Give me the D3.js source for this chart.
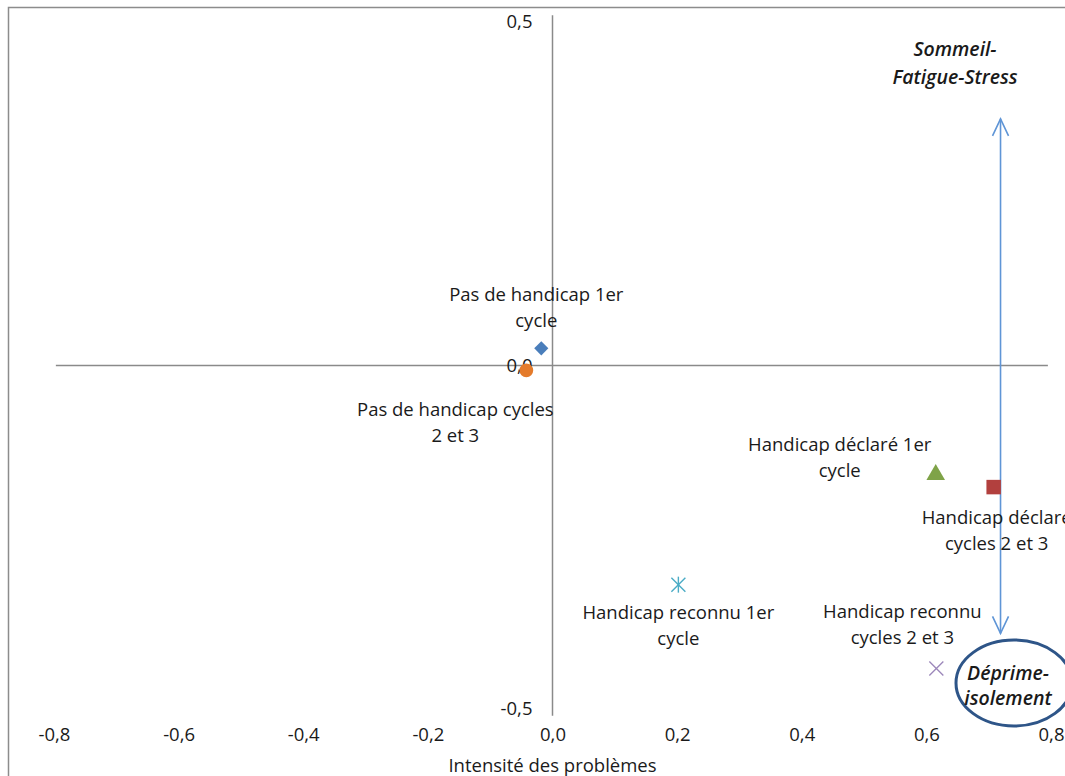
<!DOCTYPE html>
<html><head><meta charset="utf-8">
<script src="https://cdn.jsdelivr.net/npm/d3@7"></script>
<style>
body{margin:0;background:#fff;}
text{font-family:"Open Sans","Liberation Sans",sans-serif;fill:#1a1a1a;}
</style></head>
<body><svg id="c" width="1065" height="776"></svg>
<script>
const groups = ["Pas de handicap 1er cycle","Pas de handicap cycles 2 et 3","Handicap déclaré 1er cycle","Handicap déclaré cycles 2 et 3","Handicap reconnu 1er cycle","Handicap reconnu cycles 2 et 3"];
const labelLines = [["Pas de handicap 1er","cycle"],["Pas de handicap cycles","2 et 3"],["Handicap déclaré 1er","cycle"],["Handicap déclaré","cycles 2 et 3"],["Handicap reconnu 1er","cycle"],["Handicap reconnu","cycles 2 et 3"]];
const xValues = [-0.018,-0.042,0.615,0.708,0.202,0.616];
const yValues = [0.025,-0.007,-0.159,-0.177,-0.319,-0.441];
const symbols = ["diamond","circle","triangle","square","asterisk","cross"];
const colors = ["#4a7ebb","#e47b2b","#7fa348","#b2403e","#4bacc6","#9c87ba"];
const labelDx = [-5,-71,-96,3,0,-34];
const labelDy = [-47,46,-24,37,34,-50];
const xTicks = [-0.8,-0.6,-0.4,-0.2,0.0,0.2,0.4,0.6,0.8];
const yTicks = [0.5,0.0,-0.5];
const xTitle = "Intensité des problèmes";
const annotTop = ["Sommeil-","Fatigue-Stress"];
const annotBottom = ["Déprime-","isolement"];
const arrowY = [0.359,-0.39];
const arrowX = 0.719;

const FS = 18.5;
const svg = d3.select("#c");
const fmt = v => d3.format(".1f")(v).replace(".",",").replace("−","-");
const x = d3.scaleLinear().domain([-0.8,0.8]).range([54,1051]);
const y = d3.scaleLinear().domain([-0.5,0.5]).range([709,22]);

// frame
svg.append("path").attr("d","M8.5,776 L8.5,7.5 L1065,7.5").attr("fill","none").attr("stroke","#8c8c8c").attr("stroke-width",1.5);

// axes lines
svg.append("line").attr("x1",x(-0.797)).attr("x2",x(0.795)).attr("y1",y(0)).attr("y2",y(0)).attr("stroke","#8a8a8a").attr("stroke-width",1.5);
svg.append("line").attr("x1",x(0)).attr("x2",x(0)).attr("y1",y(0.51)).attr("y2",y(-0.51)).attr("stroke","#8a8a8a").attr("stroke-width",1.5);

// x tick labels at bottom
const xAxis = d3.axisBottom(x).tickValues(xTicks).tickFormat(fmt).tickSize(0);
const gx = svg.append("g").attr("transform","translate(0,725)").call(xAxis);
gx.select(".domain").remove();
gx.selectAll("text").attr("font-size",FS).attr("font-family","Open Sans").attr("fill","#1a1a1a");

// y tick labels
const yAxis = d3.axisLeft(y).tickValues(yTicks).tickFormat(fmt).tickSize(0).tickPadding(20);
const gy = svg.append("g").attr("transform",`translate(${x(0)},0)`).call(yAxis);
gy.select(".domain").remove();
gy.selectAll("text").attr("font-size",FS).attr("font-family","Open Sans").attr("fill","#1a1a1a");

svg.append("text").attr("x",x(0)).attr("y",772).attr("text-anchor","middle").attr("font-size",FS).text(xTitle);

// arrow
const ac = "#5f95d6";
const ax = x(arrowX), ay1 = y(arrowY[0]), ay2 = y(arrowY[1]);
svg.append("line").attr("x1",ax).attr("x2",ax).attr("y1",ay1).attr("y2",ay2).attr("stroke",ac).attr("stroke-width",1.6);
svg.append("path").attr("d",`M${ax-8},${ay1+17} L${ax},${ay1} L${ax+8},${ay1+17}`).attr("fill","none").attr("stroke",ac).attr("stroke-width",1.6);
svg.append("path").attr("d",`M${ax-8},${ay2-17} L${ax},${ay2} L${ax+8},${ay2-17}`).attr("fill","none").attr("stroke",ac).attr("stroke-width",1.6);

// points
const sym = {diamond:d3.symbolSquare, circle:d3.symbolCircle, triangle:d3.symbolTriangle, square:d3.symbolSquare};
groups.forEach((g,i)=>{
  const px = x(xValues[i]), py = y(yValues[i]);
  const s = symbols[i];
  if (sym[s]) {
    const size = s==="diamond"?100:s==="circle"?150:s==="triangle"?150:210;
    svg.append("path").attr("d",d3.symbol().type(sym[s]).size(size)())
      .attr("transform",`translate(${px},${py})` + (s==="diamond"?" rotate(45)":""))
      .attr("fill",colors[i]);
  } else if (s==="asterisk") {
    const r=7;
    const gA = svg.append("g").attr("transform",`translate(${px},${py})`).attr("stroke",colors[i]).attr("stroke-width",1.4);
    gA.append("line").attr("x1",-r).attr("x2",r).attr("y1",-r).attr("y2",r);
    gA.append("line").attr("x1",-r).attr("x2",r).attr("y1",r).attr("y2",-r);
    gA.append("line").attr("x1",0).attr("x2",0).attr("y1",-r-1).attr("y2",r+1);
  } else {
    const r=7;
    const gX = svg.append("g").attr("transform",`translate(${px},${py})`).attr("stroke",colors[i]).attr("stroke-width",1.4);
    gX.append("line").attr("x1",-r).attr("x2",r).attr("y1",-r).attr("y2",r);
    gX.append("line").attr("x1",-r).attr("x2",r).attr("y1",r).attr("y2",-r);
  }
  const t = svg.append("text").attr("text-anchor","middle").attr("font-size",FS);
  labelLines[i].forEach((ln,j)=>{
    t.append("tspan").attr("x",px+labelDx[i]).attr("y",py+labelDy[i]+j*26).text(ln);
  });
});

// annotations
const tt = svg.append("text").attr("text-anchor","middle").attr("font-size",19.5).attr("font-weight",600).attr("font-style","italic");
annotTop.forEach((ln,j)=>tt.append("tspan").attr("x",955).attr("y",56+j*28).text(ln));
svg.append("ellipse").attr("cx",1014).attr("cy",683).attr("rx",58).attr("ry",43).attr("fill","none").attr("stroke","#2e5588").attr("stroke-width",3);
const tb = svg.append("text").attr("text-anchor","middle").attr("font-size",19.5).attr("font-weight",600).attr("font-style","italic");
annotBottom.forEach((ln,j)=>tb.append("tspan").attr("x",1008).attr("y",680+j*25).text(ln));
</script></body></html>
